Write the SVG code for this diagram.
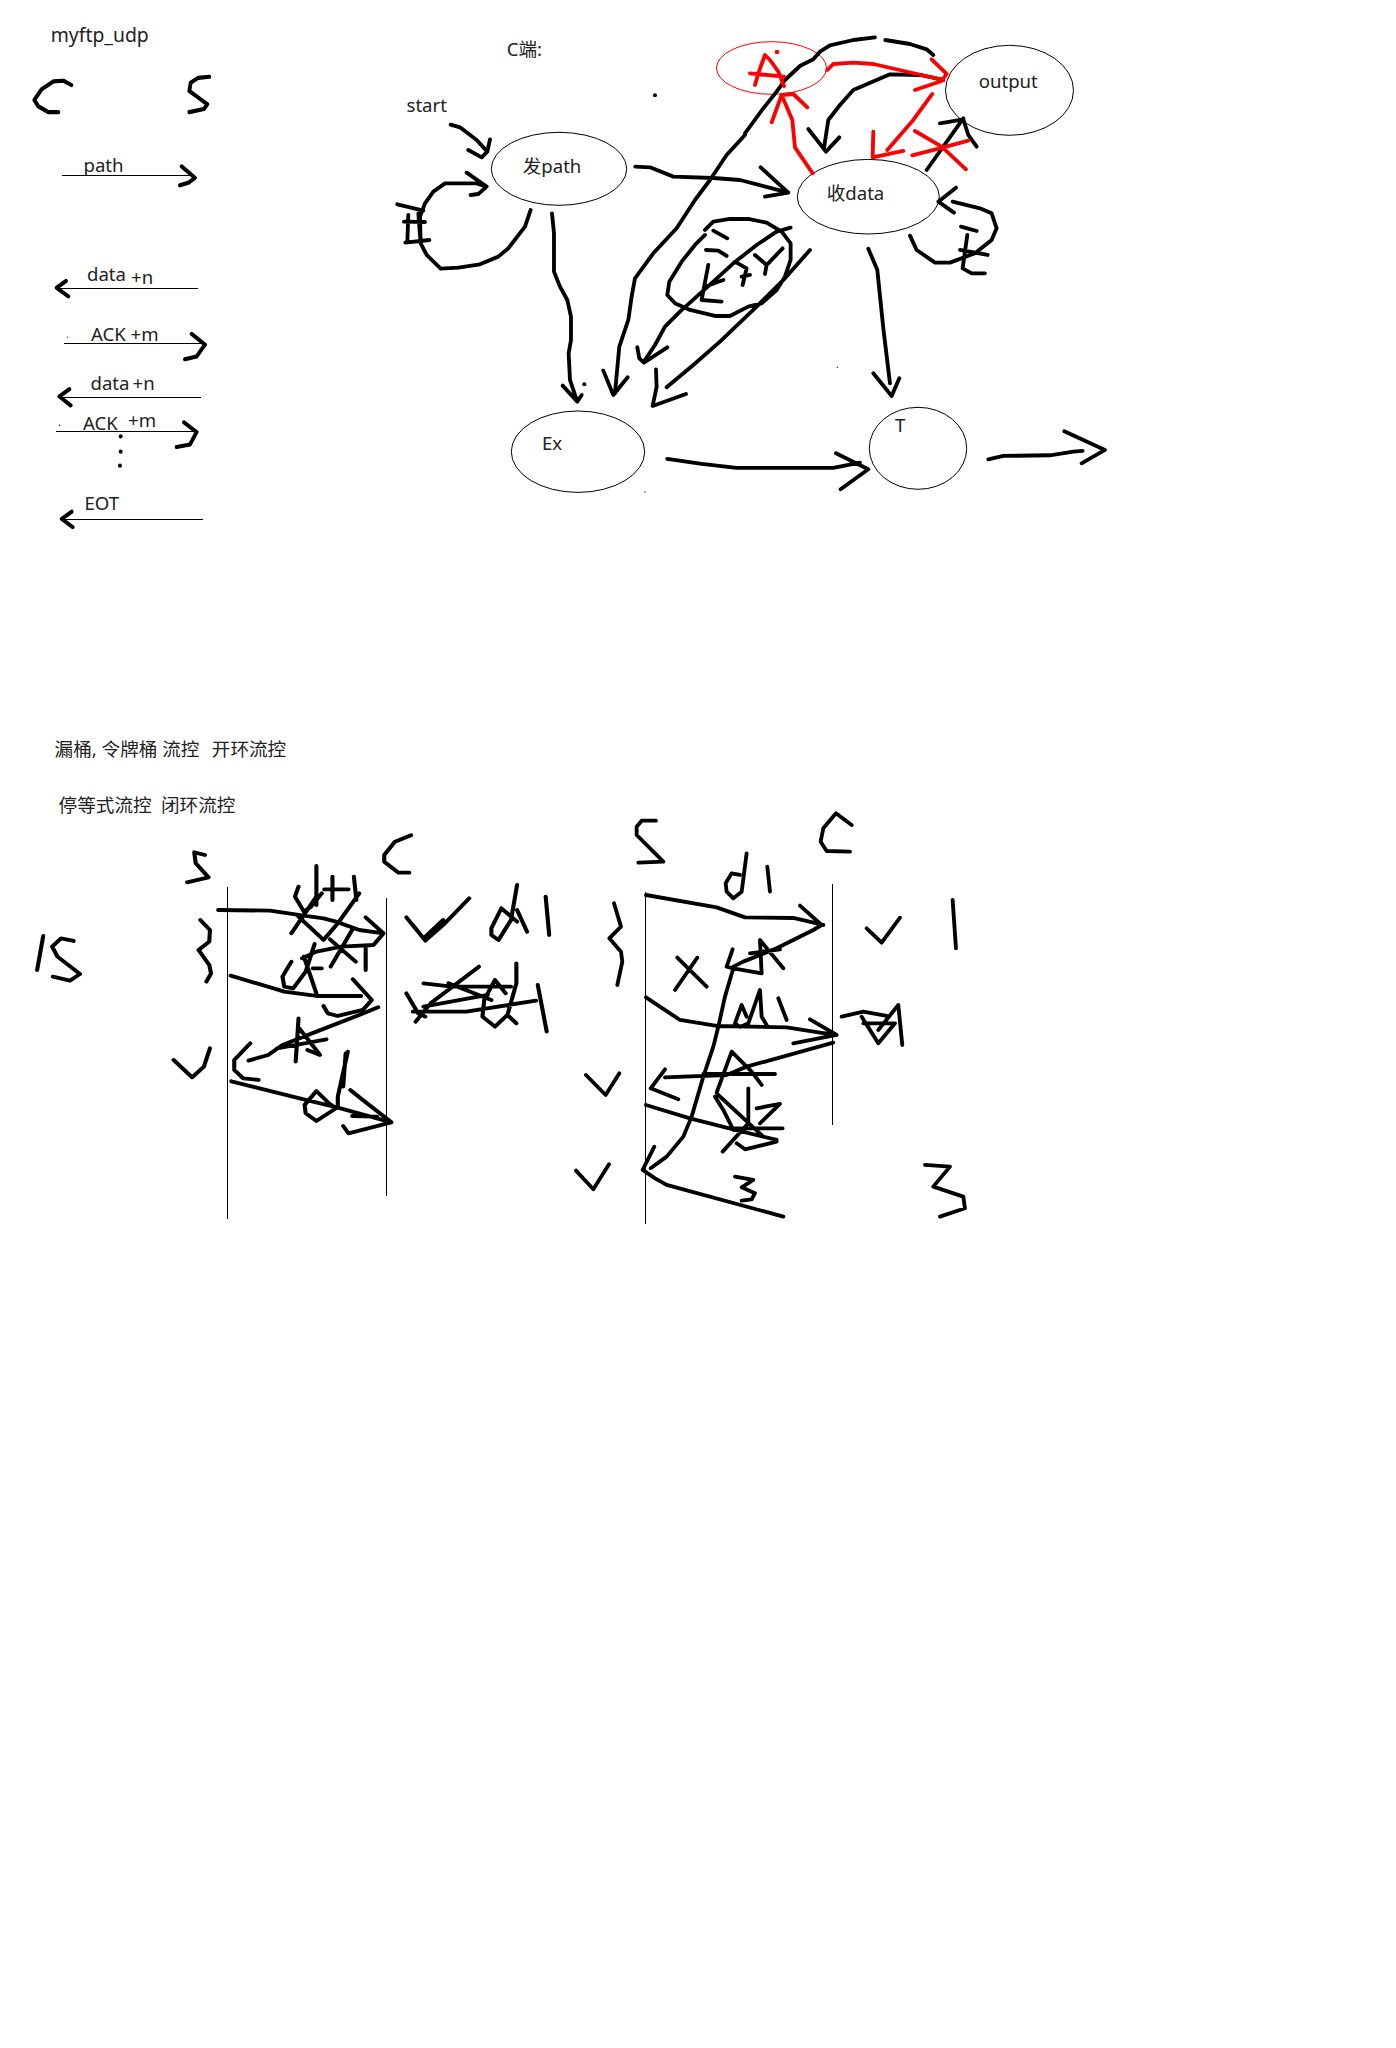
<svg xmlns="http://www.w3.org/2000/svg" width="1396" height="2048" viewBox="0 0 1396 2048">
<style>
text{font-family:"Noto Sans","Noto Sans CJK SC",sans-serif;font-size:18.6px;fill:#222}
.n{fill:#fff;stroke:#000;stroke-width:1}
.r{fill:none;stroke:#f00;stroke-width:1}
.t{stroke:#000;stroke-width:1;fill:none}
.k,.e{fill:none;stroke:#000;stroke-width:11.5;stroke-linecap:round;stroke-linejoin:round}
.e{stroke:#f00}
.d{fill:#000;stroke:none}
.f{fill:#f00;stroke:none}
</style>
<rect width="1396" height="2048" fill="#fff"/>
<g id="node-send"><ellipse class="n" cx="559" cy="168.8" rx="67.7" ry="36.5"/><text x="522.7" y="173">发path</text></g>
<g id="node-recv"><ellipse class="n" cx="868.3" cy="196.7" rx="71" ry="37.3"/><text x="826.7" y="200">收data</text></g>
<g id="node-ex"><ellipse class="n" cx="578" cy="451.7" rx="66.7" ry="40.7"/><text x="542" y="450">Ex</text></g>
<g id="node-t"><ellipse class="n" cx="918" cy="448.3" rx="48.7" ry="41"/><text x="895" y="431.7">T</text></g>
<g id="node-output"><ellipse class="n" cx="1009.5" cy="90.3" rx="64" ry="45"/><text x="978.7" y="87.7">output</text></g>
<g id="node-a"><ellipse class="r" cx="771.5" cy="68" rx="55" ry="26.3"/></g>
<g id="labels">
<text x="50.7" y="42" style="font-size:19.4px">myftp_udp</text>
<text x="83.5" y="172">path</text>
<text x="87" y="281">data</text><text x="131" y="284">+n</text>
<text x="91" y="341">ACK +m</text>
<text x="90.5" y="390">data</text><text x="132.5" y="390">+n</text>
<text x="83" y="430">ACK</text><text x="128" y="427">+m</text>
<text x="84.5" y="510">EOT</text>
<text x="506.7" y="56">C端:</text>
<text x="406.5" y="112">start</text>
<text y="755.7"><tspan x="54.6">漏桶, 令牌桶 流控</tspan><tspan x="211.8">开环流控</tspan></text>
<text y="811.7"><tspan x="58.6">停等式流控</tspan><tspan x="161">闭环流控</tspan></text>
</g>
<g id="connectors">
<path class="t" d="M62 175.5H193M55 288.5H198M64 343.5H205M58 397.5H201M56 431.5H197M60 519.5H203M227.5 1219V887M386.5 1196V898M645.5 892V1224M832.5 884V1125"/>
<g transform="scale(.3333 .3571)">
<path class="k" d="M214 238L190 226L160 228L125 250L103 280L115 298L145 314L175 314M628 215L595 218L572 232L568 255L590 270L622 292L612 305L568 314M545 466L585 498L565 512L540 519M198 787L170 806L205 830M575 935L615 965L590 998L555 1006M208 1090L178 1110L212 1135M552 1183L590 1210L570 1245L530 1252M215 1433L185 1453L218 1476"/>
<circle class="d" cx="362" cy="1222" r="6"/><circle class="d" cx="362" cy="1265" r="6"/><circle class="d" cx="360" cy="1304" r="6"/><circle class="d" cx="203" cy="944" r="2"/><circle class="d" cx="178" cy="1191" r="2"/>
</g>
<g transform="translate(380 20) scale(.3333)">
<path class="k" d="M212 314L240 322L290 360L322 395M330 358L322 395L305 412L265 390M452 570L435 620L385 685L355 710L300 733L235 743L182 746L140 705L122 670L120 590L135 550L160 515L195 490L290 490L320 500M260 458L320 500L295 522L272 525M52 553L130 572M72 605L135 606M76 668L148 660M85 585L82 665M115 580L122 670M766 440L810 442L880 470L1000 474L1080 480L1225 518M1142 442L1225 518L1155 530M516 580L522 640L522 755L540 800L562 840L573 890L573 960L566 1000L570 1080L590 1140M548 1097L592 1145L605 1125M1485 52L1420 60L1350 76L1320 95L1300 118L1260 138L1215 180L1190 215L1150 265L1095 340L1095 345L1040 405L990 480L945 540L890 625L820 700L765 775L755 830L745 900L718 980L705 1120M670 1052L700 1125L743 1072M975 630L1000 605L1050 597L1105 597L1160 608L1205 635L1232 670L1232 720L1215 770L1190 810L1145 850L1105 860L1050 888L1005 888L930 870L885 850L862 825L868 785L905 725L945 675L975 645M1000 632L1042 655M978 690L1015 692L1040 708M985 735L965 840L1025 845M1065 725L1100 745L1088 795M1110 765L1085 770M1125 705L1160 735L1155 762M1208 685L1165 730M1232 623L1190 635L1130 675L1060 730L1000 785L950 830L900 875L855 920L825 975L792 1025M772 982L778 1015L792 1028L862 982M975 800L1030 780M1290 690L1215 775L1130 860L1020 965L940 1035L860 1102M828 1048L830 1100L818 1158L918 1122M862 1317L965 1332L1070 1344L1360 1344L1440 1328M1368 1300L1465 1348L1382 1408"/>
<circle class="d" cx="825" cy="226" r="6"/><circle class="d" cx="613" cy="1093" r="6"/><circle class="d" cx="795" cy="1416" r="2"/><circle class="d" cx="1372" cy="1042" r="2"/>
</g>
<g transform="translate(600 20) scale(.3333)">
<path class="k" d="M856 60L930 72L980 88L1000 105M805 686L832 750L850 925L870 1090M820 1060L875 1128L898 1075M1165 1318L1210 1308L1350 1306L1420 1295L1448 1293M1393 1234L1515 1290L1445 1330M1030 180L960 165L870 163L760 210L720 255L685 300L672 385M625 327L678 395L718 352M980 450L1090 295M1020 310L1090 298L1105 345L1130 380M930 647L950 690L1005 728L1050 728L1125 700L1175 660L1190 625L1175 580L1140 565L1058 545M1068 503L1015 545L1062 578M1083 620L1130 633M1102 645L1088 745L1115 760L1155 760M1080 690L1163 705"/>
<path class="e" d="M465 195L475 160L495 105L510 120L535 155L552 198M450 160L552 170M638 460L585 382L577 300L545 225M515 307L545 225L580 222L622 262M682 150L700 132L760 128L820 132L1030 180M995 118L1040 162L1025 183L945 210M997 222L940 300L862 390M820 335L818 412L910 393M945 333L1025 380L1098 448M937 406L1030 382L1105 362"/>
<circle class="f" cx="531" cy="96" r="7"/>
</g>
<g transform="translate(20 720) scale(.3571 .3333)">
<path class="k" d="M518 405L488 397L492 430L528 472L468 487M1095 346L1050 365L1020 405L1020 425L1060 458L1090 458M65 648L48 750M150 663L115 655L90 680L105 710L168 762L140 782L92 770M505 600L532 630L530 665L500 690L530 735L535 760L522 785M430 1020L482 1072L515 1040L532 985M555 570L700 572L780 585L850 595L885 605L950 630L1018 640M968 592L1018 640L990 675M990 675L900 680L830 695L790 715M830 438L830 555M780 500L770 530L795 575L815 560L845 520M852 508L920 508M875 470L875 540M935 470L942 540M760 640L830 530M780 590L850 660L890 610L950 520M930 630L870 740M868 658L940 725M968 680L968 750M760 725L735 770L740 800L765 805L800 755L825 672M795 710L830 820M820 745L845 745M590 767L740 815L830 828L955 828M932 778L985 840L960 870L890 888L862 880L850 858M1003 862L950 885L830 935L735 975L695 1005L640 1022M645 970L600 1020L600 1050L625 1075L668 1080M780 895L772 1025M782 925L815 970L840 1005L805 990M720 985L858 958M592 1084L800 1140L890 1163L1040 1207M925 1110L960 1140L1040 1207L920 1240L905 1218M930 1188L1000 1190M918 995L890 1130L890 1160M912 1000L905 1100M830 1113L865 1150L885 1165L830 1203L800 1180L797 1155L830 1113M1082 592L1135 662L1190 610L1258 535M1100 615L1130 655L1185 600M1348 565L1320 625L1320 645L1340 660L1375 600L1392 495M1348 565L1392 605M1392 570L1420 635M1472 530L1482 645M1082 820L1115 880L1135 890M1108 905L1150 850L1285 740M1130 790L1210 800L1375 800M1100 875L1250 875L1445 842M1130 860L1310 825M1200 790L1320 840M1330 780L1300 840L1295 890L1330 920L1365 885L1390 790L1390 730M1330 780L1360 820M1365 885L1390 910M1450 795L1475 935"/>
</g>
<g transform="translate(560 790) scale(.3333)">
<path class="k" d="M288 92L245 92L230 110L230 135L310 215L235 218M875 105L828 70L790 115L782 155L800 183L870 185M540 255L515 250L497 280L500 305L520 325L545 305L560 190M622 230L630 305M258 315L470 352L555 382L700 384L790 405M720 347L785 405L760 420L650 475L550 515L520 530M518 478L500 530L520 535L605 550M605 550L600 450L670 535M570 490L660 478M920 415L965 458L1020 383M1178 330L1188 475M162 340L183 410L148 445L183 485L187 515L172 585M345 600L412 503M352 503L440 590M258 622L360 690L470 708L680 712L780 728L830 735M750 688L830 735L700 760M520 535L495 620L475 710L460 770L430 860L395 980L370 1040L320 1100L272 1135M283 1070L248 1140L285 1165L320 1185L670 1280M545 645L525 700L540 712L565 700L600 600L605 680L620 705M545 645L560 680M655 625L680 690M820 758L560 830L500 855L315 862M645 852L430 852M315 838L272 895L355 928M470 908L515 785L575 845L605 885M258 945L390 985L520 1018L650 1050M465 920L490 960L520 1020M475 915L610 1040M530 1060L555 1078L650 1055M565 895L565 1000L488 1085M520 1015L668 1015M590 955L660 942L600 1000M78 855L137 915L178 850M48 1142L100 1198L147 1123M525 1160L580 1170L545 1192L585 1210L575 1228L545 1232M1095 1125L1170 1130L1120 1190L1210 1220L1215 1255L1140 1280M845 680L910 665L980 678M905 680L955 760L1005 700L910 700M955 720L1015 645M1015 645L1027 765"/>
</g>
</g>
</svg>
